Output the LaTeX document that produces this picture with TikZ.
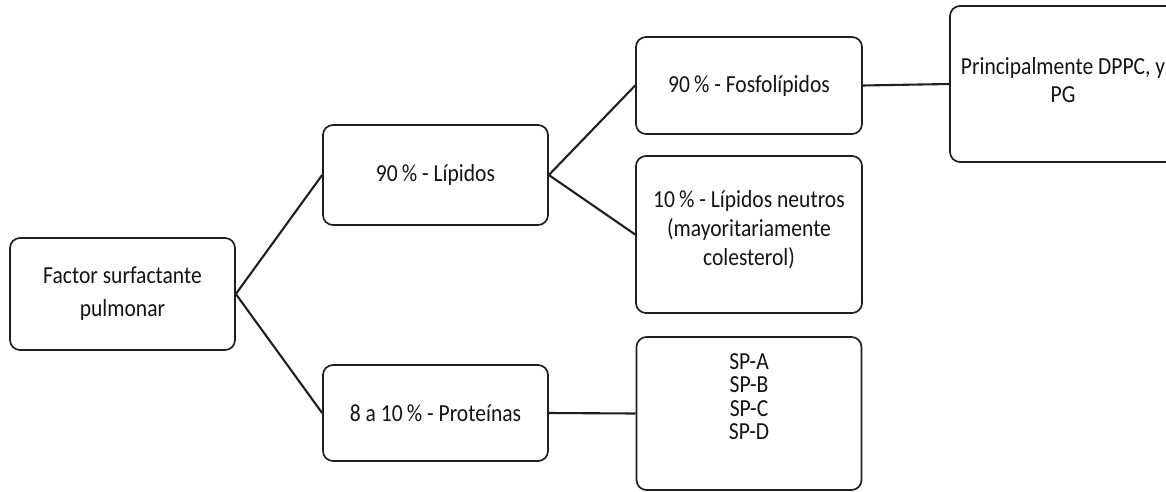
\documentclass[tikz,border=0pt]{standalone}
\usepackage{fontspec}
\setmainfont{Carlito}[FakeStretch=0.88]
\begin{document}
\begin{tikzpicture}[x=1pt,y=-1pt,
  box/.style={draw=black!88, line width=1.7pt, rounded corners=10pt, fill=white,
    inner sep=0pt, align=center, text=black!92},
  txt/.style={inner sep=0pt, align=center, text=black!92},
  link/.style={draw=black!88, line width=2.1pt},
  font=\fontsize{24.5}{27}\selectfont]
\useasboundingbox (0,0) rectangle (1166,492);
\clip (0,0) rectangle (1166,492);

% level 0
\node[box, minimum width=225pt, minimum height=112pt, font=\fontsize{24.5}{33}\selectfont]
  (root) at (122.5,294) {Factor surfactante\\pulmonar};

% level 1
\node[box, minimum width=225pt, minimum height=100pt] (lip) at (435.5,175) {90\,\% - Lípidos};
\node[box, minimum width=225pt, minimum height=96pt] (prot) at (435.5,413) {8 a 10\,\% - Proteínas};

% level 2
\node[box, minimum width=226pt, minimum height=97pt] (fos) at (749,85.5) {90\,\% - Fosfolípidos};
\node[box, minimum width=226pt, minimum height=157pt] (neu) at (749,234.5) {};
\node[txt, font=\fontsize{24.5}{29}\selectfont] (neutxt) at ([yshift=5pt]neu.center)
  {10\,\% - Lípidos neutros\\(mayoritariamente\\colesterol)};
\node[box, minimum width=225pt, minimum height=153pt] (sp) at (749,413.5) {};
\node[txt, font=\fontsize{24.5}{23.5}\selectfont] (sptxt) at ([yshift=17pt]sp.center)
  {SP-A\\SP-B\\SP-C\\SP-D};

% level 3
\node[box, minimum width=226pt, minimum height=156pt] (dppc) at (1063,84) {};
\node[txt, font=\fontsize{24.5}{28}\selectfont] (dppctxt) at ([yshift=4pt]dppc.center)
  {Principalmente DPPC, y\\PG};

% connectors
\draw[link] (root.east) -- (lip.west);
\draw[link] (root.east) -- (prot.west);
\draw[link] (lip.east) -- (fos.west);
\draw[link] (lip.east) -- (neu.west);
\draw[link] (fos.east) -- (dppc.west);
\draw[link] (prot.east) -- (sp.west);
\end{tikzpicture}
\end{document}
